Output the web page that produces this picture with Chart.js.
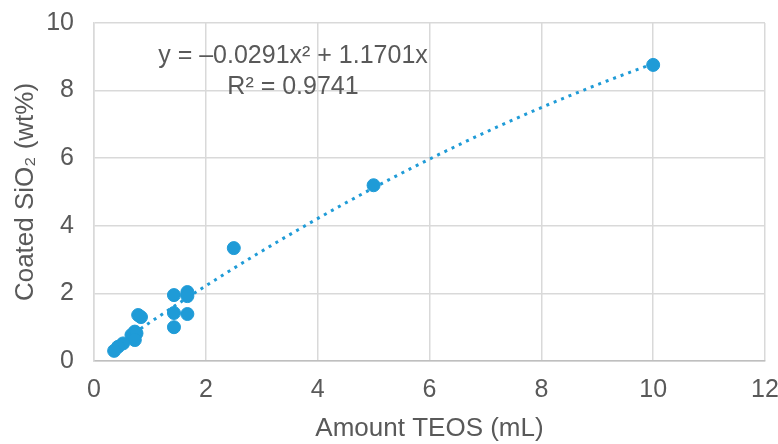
<!DOCTYPE html>
<html>
<head>
<meta charset="utf-8">
<script src="https://cdn.jsdelivr.net/npm/chart.js@4.4.1/dist/chart.umd.min.js"></script>
<style>
  html, body { margin: 0; padding: 0; background: #fff; }
  #wrap { width: 778px; height: 444px; }
</style>
</head>
<body>
<div id="wrap"><canvas id="scatter-chart" width="778" height="444"></canvas></div>
<script>
// measured points: amount TEOS (mL) vs coated SiO2 (wt%)
var teos = [10, 5, 2.5, 1.67, 1.67, 1.67, 1.43, 1.43, 1.43, 0.79, 0.84, 0.73, 0.67, 0.76, 0.73, 0.52, 0.43, 0.36];
var sio2 = [8.76, 5.2, 3.34, 2.04, 1.92, 1.39, 1.95, 1.42, 1.0, 1.36, 1.3, 0.87, 0.77, 0.82, 0.62, 0.52, 0.42, 0.30];

// poly trendline shown on the chart: y = a*x^2 + b*x
var trendA = -0.0291;
var trendB = 1.1701;
var trendR2 = 0.9741;
var trendFrom = 0.36;
var trendTo = 10;

var xTicks = [0, 2, 4, 6, 8, 10, 12];
var yTicks = [0, 2, 4, 6, 8, 10];

var blue = '#1f9bd7';
var textColor = '#595959';

var points = teos.map(function (x, i) { return { x: x, y: sio2[i] }; });

var trend = [];
for (var x = trendFrom; x < trendTo; x += 0.1) {
    trend.push({ x: x, y: trendA * x * x + trendB * x });
}
trend.push({ x: trendTo, y: trendA * trendTo * trendTo + trendB * trendTo });

// equation label, like excel's trendline label
var eqLabel = {
    id: 'eqLabel',
    afterDatasetsDraw: function (chart) {
        var c = chart.ctx;
        c.save();
        c.fillStyle = textColor;
        c.font = '25px "Liberation Sans", Arial, sans-serif';
        c.textAlign = 'center';
        c.textBaseline = 'middle';
        var cx = 293;
        c.fillText('y = \u20130.0291x\u00b2 + 1.1701x', cx, 56);
        c.fillText('R\u00b2 = ' + trendR2.toFixed(4), cx, 87);
        c.restore();
    }
};

var ctx = document.getElementById('scatter-chart');

var chart = new Chart(ctx, {
    type: 'scatter',
    data: {
        datasets: [{
            label: 'trend',
            type: 'line',
            data: trend,
            borderColor: blue,
            borderWidth: 3,
            borderDash: [3, 5],
            pointRadius: 0,
            fill: false,
            order: 2
        }, {
            label: 'SiO2',
            data: points,
            backgroundColor: blue,
            borderColor: blue,
            pointRadius: 6.5,
            order: 1
        }]
    },
    plugins: [eqLabel],
    options: {
        responsive: false,
        animation: false,
        layout: { padding: { top: 23, right: 13, left: 0, bottom: 0 } },
        plugins: {
            legend: { display: false },
            tooltip: { enabled: false }
        },
        scales: {
            x: {
                type: 'linear',
                min: 0,
                max: 12,
                afterBuildTicks: function (axis) {
                    axis.ticks = xTicks.map(function (v) { return { value: v }; });
                },
                afterFit: function (axis) {
                    axis.height = 83;
                    axis.paddingLeft = 0;
                    axis.paddingRight = 0;
                },
                grid: { color: '#d9d9d9', lineWidth: 1.5, drawTicks: false },
                border: { color: '#bfbfbf', width: 1.5 },
                ticks: {
                    color: textColor,
                    padding: 14,
                    font: { family: '"Liberation Sans", Arial, sans-serif', size: 25 }
                },
                title: {
                    display: true,
                    text: 'Amount TEOS (mL)',
                    color: textColor,
                    padding: { top: 5, bottom: 0 },
                    font: { family: '"Liberation Sans", Arial, sans-serif', size: 26 }
                }
            },
            y: {
                type: 'linear',
                min: 0,
                max: 10,
                afterBuildTicks: function (axis) {
                    axis.ticks = yTicks.map(function (v) { return { value: v }; });
                },
                afterFit: function (axis) {
                    axis.width = 94;
                    axis.paddingTop = 0;
                    axis.paddingBottom = 0;
                },
                grid: { color: '#d9d9d9', lineWidth: 1.5, drawTicks: false },
                border: { color: '#d9d9d9', width: 1.5 },
                ticks: {
                    color: textColor,
                    padding: 20,
                    font: { family: '"Liberation Sans", Arial, sans-serif', size: 25 }
                },
                title: {
                    display: true,
                    text: 'Coated SiO\u2082 (wt%)',
                    color: textColor,
                    padding: { top: 10, bottom: 0 },
                    font: { family: '"Liberation Sans", Arial, sans-serif', size: 26 }
                }
            }
        }
    }
});
</script>
</body>
</html>
